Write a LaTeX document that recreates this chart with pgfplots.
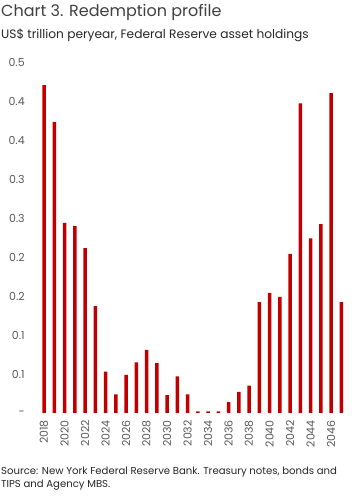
\documentclass[border=0pt]{standalone}
\usepackage{fontspec}
\setmainfont{Poppins}
\usepackage{pgfplots}
\pgfplotsset{compat=1.18}
\definecolor{barred}{RGB}{192,0,0}
\definecolor{lblgray}{RGB}{89,89,89}
\definecolor{titlegray}{RGB}{64,64,64}
\begin{document}
\begin{tikzpicture}
\path[use as bounding box] (0pt,0pt) rectangle (354pt,496pt);
\node[anchor=base west, inner sep=0, font=\fontsize{16}{18}\selectfont, text=titlegray] at (1pt,479pt) {Chart 3. Redemption profile};
\node[anchor=base west, inner sep=0, font=\fontsize{12.2}{14}\selectfont, text=black!85] at (1pt,457pt) {US\$ trillion peryear, Federal Reserve asset holdings};
\node[anchor=base west, inner sep=0, font=\fontsize{10.1}{12}\selectfont, text=black!85] at (1pt,21pt) {Source: New York Federal Reserve Bank. Treasury notes, bonds and};
\node[anchor=base west, inner sep=0, font=\fontsize{10.1}{12}\selectfont, text=black!85] at (1pt,9pt) {TIPS and Agency MBS.};
\begin{axis}[
  at={(38.9pt,83pt)}, anchor=south west,
  scale only axis, width=307.5pt, height=351pt,
  xmin=2017.5, xmax=2047.5, ymin=0, ymax=0.45,
  axis line style={draw=none}, major tick length=0pt,
  tick style={draw=none},
  ytick={0,0.05,0.1,0.15,0.2,0.25,0.3,0.35,0.4,0.45},
  yticklabels={{-\hspace{8pt}},0.1,0.1,0.2,0.2,0.3,0.3,0.4,0.4,0.5},
  xtick={2018,2020,2022,2024,2026,2028,2030,2032,2034,2036,2038,2040,2042,2044,2046},
  xticklabels={2018,2020,2022,2024,2026,2028,2030,2032,2034,2036,2038,2040,2042,2044,2046},
  /pgf/number format/assume math mode=true,
  ticklabel style={font=\fontsize{11}{13}\selectfont, text=lblgray},
  yticklabel style={anchor=east, inner sep=0pt, xshift=-14pt},
  xticklabel style={yshift=-7pt, rotate=90, anchor=east, inner sep=0pt},
  ybar, bar width=3.5pt,
]
\addplot[fill=barred, draw=none] coordinates {
(2018,0.4205) (2019,0.373) (2020,0.2436) (2021,0.2397) (2022,0.2115)
(2023,0.137) (2024,0.053) (2025,0.024) (2026,0.049) (2027,0.065)
(2028,0.081) (2029,0.064) (2030,0.023) (2031,0.047) (2032,0.024)
(2033,0.002) (2034,0.002) (2035,0.002) (2036,0.014) (2037,0.027)
(2038,0.035) (2039,0.142) (2040,0.154) (2041,0.149) (2042,0.204)
(2043,0.397) (2044,0.224) (2045,0.242) (2046,0.410) (2047,0.142)
};
\end{axis}
\end{tikzpicture}
\end{document}
